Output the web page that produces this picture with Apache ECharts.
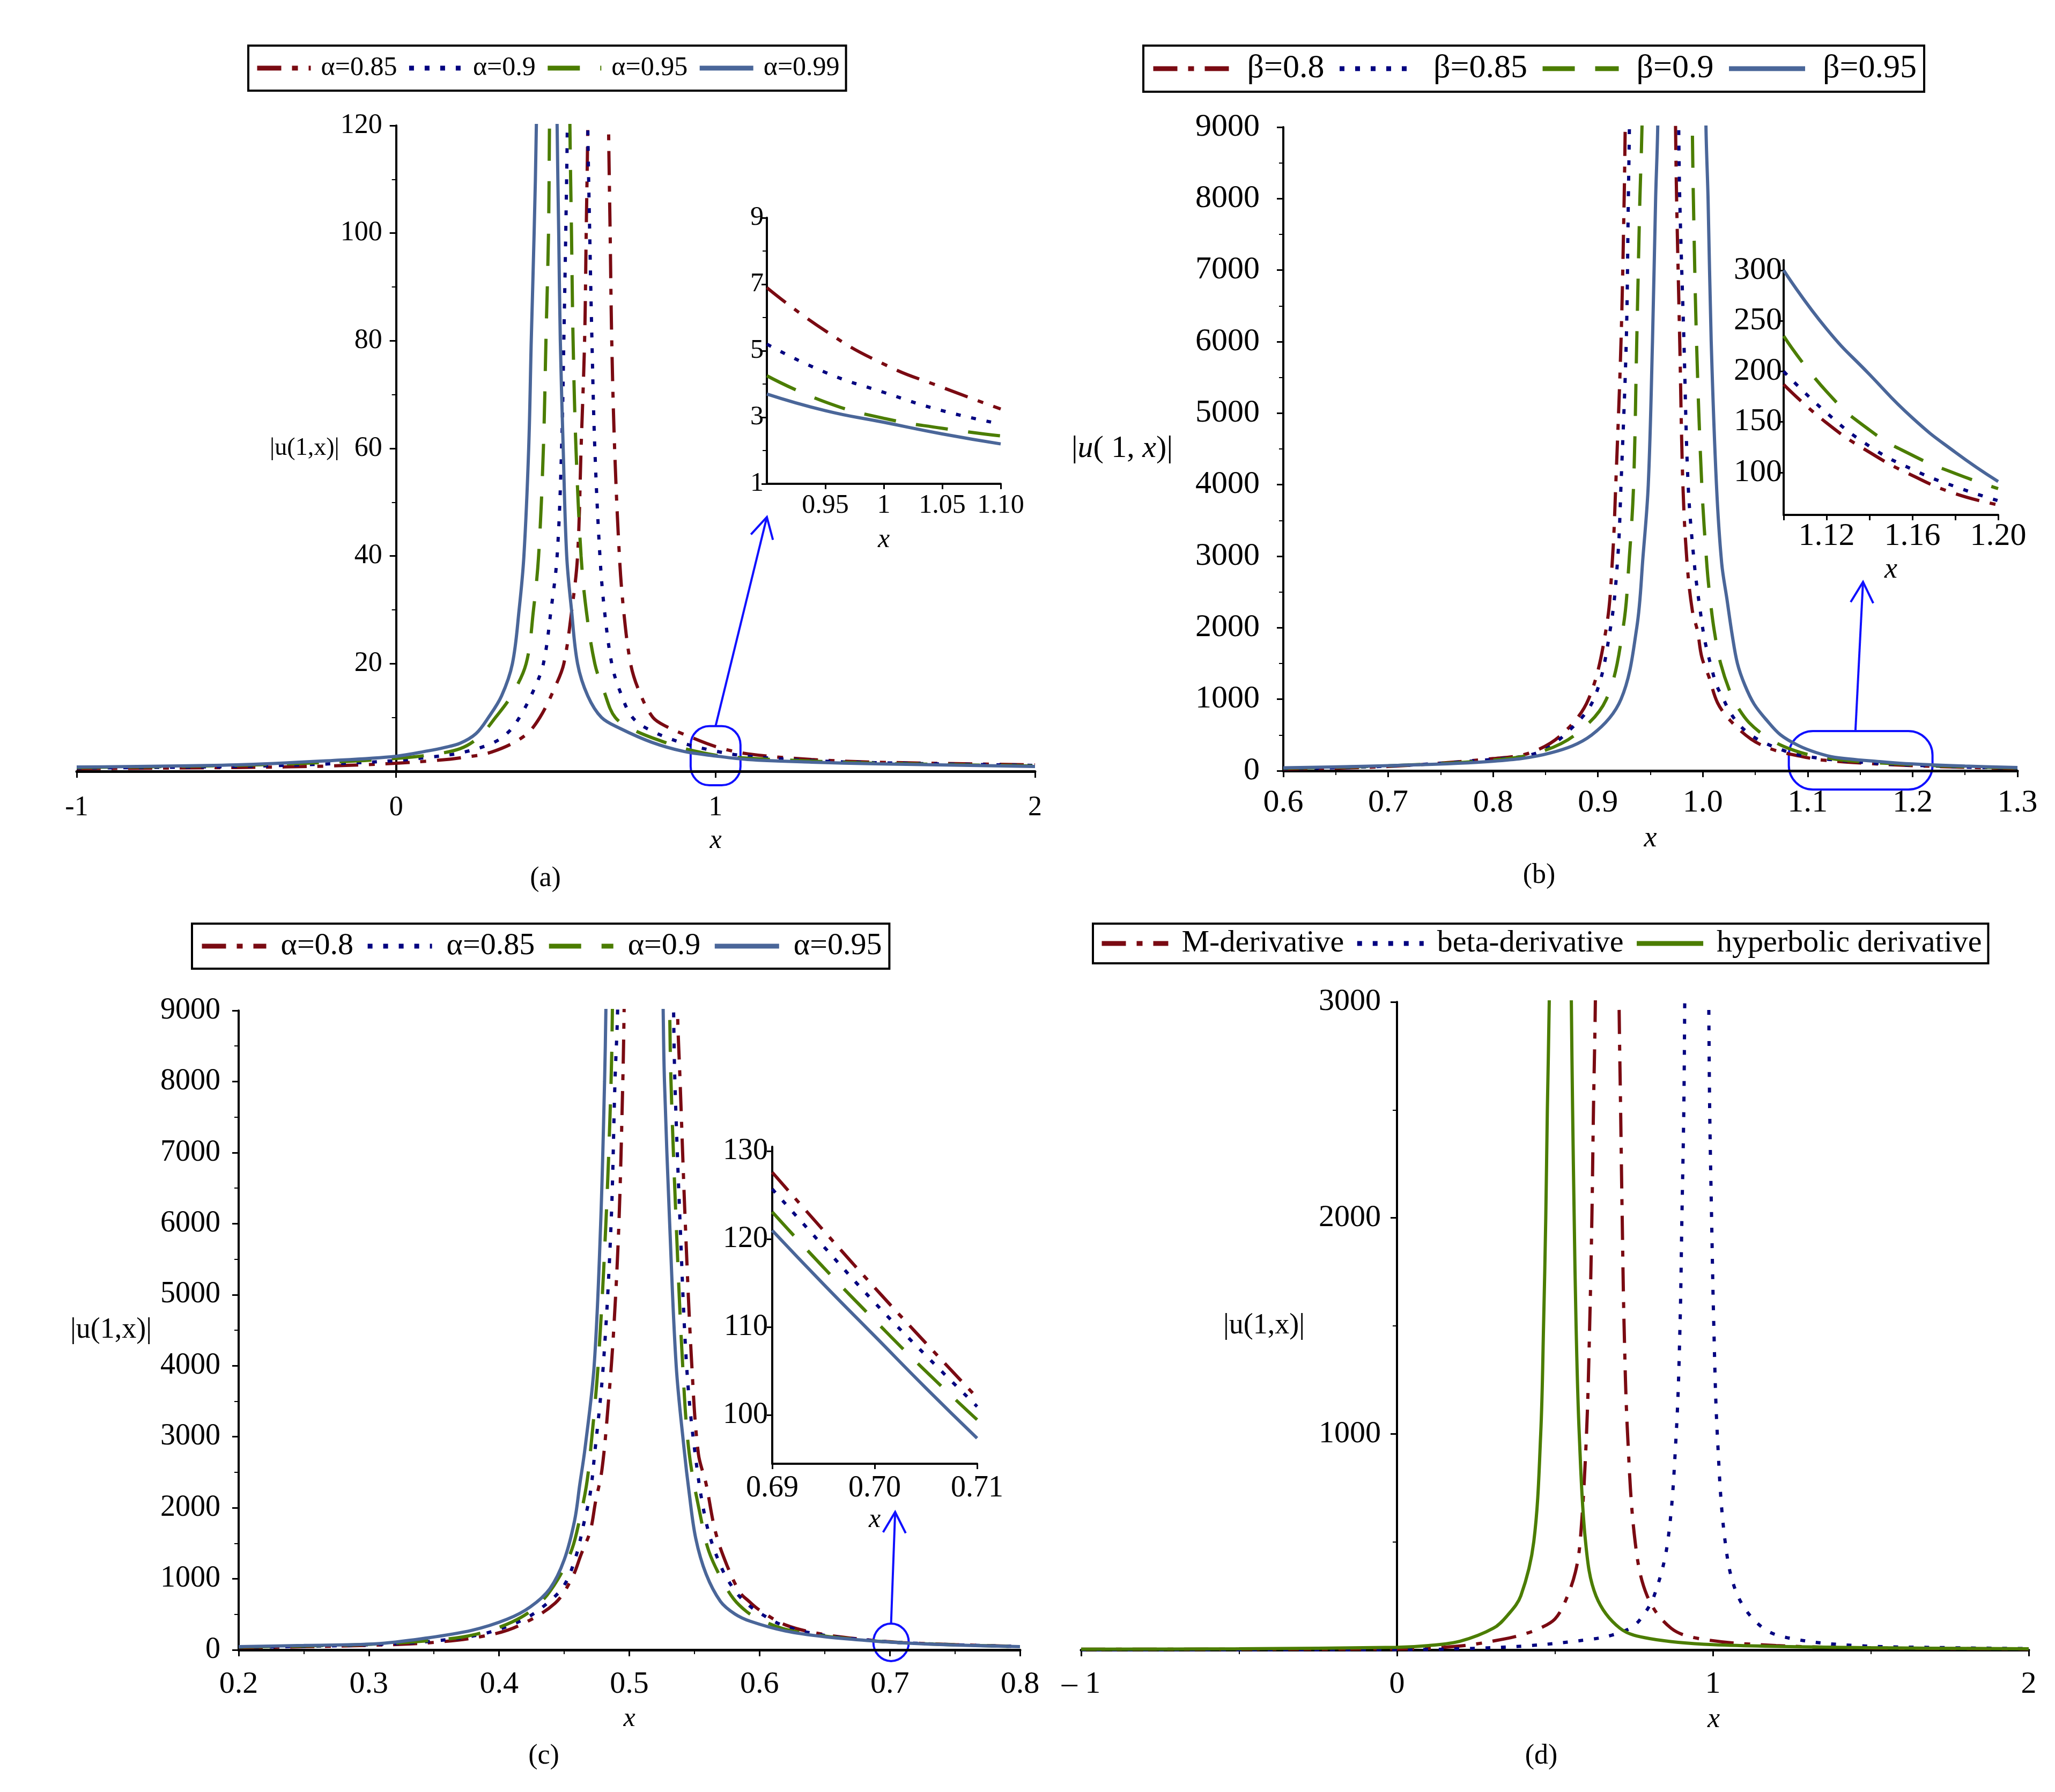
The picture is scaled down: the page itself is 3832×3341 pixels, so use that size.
<!DOCTYPE html>
<html>
<head>
<meta charset="utf-8">
<script src="https://cdn.jsdelivr.net/npm/echarts@6/dist/echarts.min.js"></script>
<style>
html, body { margin: 0; padding: 0; background: #fff; }
#container { width: 3832px; height: 3341px; }
</style>
</head>
<body>
<div id="container"></div>
<script>
// ---- data ----
// (a) |u(1,x)| for several alpha
const aNames = ['α=0.85', 'α=0.9', 'α=0.95', 'α=0.99'];
const aAlpha085 = [[-1,0.5],[-0.5,0.7],[-0.2,1.0],[0,1.5],[0.1,1.9],[0.2,2.5],[0.3,3.6],[0.4,6.5],[0.45,10],[0.5,16],[0.525,20],[0.55,30],[0.568,40],[0.579,60],[0.59,80],[0.595,100],[0.6,120],[0.604,150],[0.661,150],[0.665,120],[0.67,100],[0.675,80],[0.684,60],[0.699,40],[0.712,30],[0.734,20],[0.76,15],[0.804,10],[0.85,8.2],[0.9,6.9],[1.0,4.6],[1.1,3.25],[1.3,2.2],[1.5,1.7],[2,1.2]];
const aAlpha09 = [[-1,0.6],[-0.5,0.9],[-0.2,1.4],[0,2.0],[0.1,2.6],[0.2,3.4],[0.3,5.2],[0.35,7.2],[0.386,10],[0.43,15],[0.461,20],[0.485,30],[0.504,40],[0.518,60],[0.525,80],[0.531,100],[0.536,120],[0.54,150],[0.596,150],[0.6,120],[0.606,100],[0.613,80],[0.622,60],[0.638,40],[0.652,30],[0.675,20],[0.7,15],[0.74,10],[0.8,7.5],[0.9,5.2],[1.0,3.75],[1.1,2.8],[1.3,2.0],[1.5,1.6],[2,1.1]];
const aAlpha095 = [[-1,0.7],[-0.5,1.1],[-0.2,1.7],[0,2.4],[0.1,3.0],[0.2,4.2],[0.26,6.4],[0.311,10],[0.36,14],[0.407,20],[0.43,30],[0.446,40],[0.461,60],[0.469,80],[0.477,100],[0.48,120],[0.484,150],[0.54,150],[0.544,120],[0.549,100],[0.554,80],[0.563,60],[0.579,40],[0.595,30],[0.622,20],[0.65,15],[0.686,10],[0.75,7.5],[0.85,5.2],[0.9,4.25],[1.0,3.0],[1.1,2.45],[1.3,1.9],[1.5,1.5],[2,1.0]];
const aAlpha099 = [[-1,0.8],[-0.5,1.2],[-0.2,2.0],[0,2.8],[0.1,3.8],[0.15,4.4],[0.2,5.2],[0.25,7.0],[0.289,10],[0.33,14],[0.364,20],[0.385,30],[0.4,40],[0.415,60],[0.423,80],[0.432,100],[0.439,120],[0.443,150],[0.5,150],[0.504,120],[0.509,100],[0.514,80],[0.523,60],[0.534,40],[0.549,30],[0.568,20],[0.6,14],[0.643,10],[0.7,8],[0.8,5.4],[0.9,3.7],[1.0,2.85],[1.1,2.2],[1.3,1.7],[1.5,1.4],[2,0.9]];
// (a) zoomed window
const aZoomX = [0.9, 0.95, 1.0, 1.05, 1.1];
const aZoom085 = [6.9, 5.6, 4.6, 3.9, 3.25];
const aZoom09 = [5.2, 4.35, 3.75, 3.2, 2.8];
const aZoom095 = [4.25, 3.46, 2.97, 2.67, 2.44];
const aZoom099 = [3.7, 3.2, 2.85, 2.5, 2.2];

// (b) several beta
const bNames = ['β=0.8', 'β=0.85', 'β=0.9', 'β=0.95'];
const bBeta08 = [[0.6,25],[0.7,60],[0.8,170],[0.835,250],[0.865,500],[0.891,1000],[0.908,2000],[0.914,3000],[0.917,4000],[0.922,6000],[0.925,8000],[0.926,9000],[0.928,11000],[0.9725,11000],[0.974,9000],[0.975,8000],[0.978,6000],[0.981,4000],[0.985,2900],[0.99,2240],[0.995,1950],[0.999,1590],[1.006,1305],[1.014,952],[1.026,705],[1.046,443],[1.066,300],[1.093,203],[1.114,150],[1.16,100],[1.2,72],[1.25,48],[1.3,32]];
const bBeta085 = [[0.6,30],[0.7,65],[0.8,160],[0.842,250],[0.868,500],[0.896,1000],[0.912,2000],[0.919,3000],[0.922,4000],[0.927,6000],[0.929,8000],[0.93,9000],[0.9315,11000],[0.9755,11000],[0.977,9000],[0.978,8000],[0.982,6000],[0.986,4000],[0.992,2880],[0.9975,2240],[1.002,1815],[1.009,1400],[1.013,1200],[1.0195,1005],[1.026,818],[1.035,638],[1.047,488],[1.06,383],[1.074,300],[1.088,233],[1.105,188],[1.121,158],[1.16,110],[1.2,78],[1.25,52],[1.3,35]];
const bBeta09 = [[0.6,35],[0.7,70],[0.8,150],[0.842,250],[0.878,500],[0.908,1000],[0.924,2000],[0.93,3000],[0.934,4000],[0.937,6000],[0.94,8000],[0.942,9000],[0.9435,11000],[0.9885,11000],[0.99,9000],[0.991,8000],[0.994,6000],[0.999,4000],[1.004,2850],[1.007,2400],[1.011,1950],[1.017,1500],[1.027,1065],[1.035,850],[1.044,675],[1.057,510],[1.07,390],[1.085,295],[1.101,225],[1.125,165],[1.15,128],[1.2,85],[1.25,57],[1.3,40]];
const bBeta095 = [[0.6,42],[0.7,72],[0.8,133],[0.855,250],[0.894,500],[0.922,1000],[0.937,2000],[0.943,3000],[0.948,4000],[0.952,6000],[0.955,8000],[0.957,9000],[0.9585,11000],[1.0015,11000],[1.003,9000],[1.005,8000],[1.008,6000],[1.013,4000],[1.018,2900],[1.023,2400],[1.028,1900],[1.033,1500],[1.04,1200],[1.049,930],[1.061,705],[1.074,503],[1.091,353],[1.108,255],[1.126,188],[1.169,128],[1.2,95],[1.25,65],[1.3,45]];
const bZoomX = [1.1, 1.12, 1.14, 1.16, 1.18, 1.2];
const bZoom08 = [187, 149, 120, 97, 79, 68];
const bZoom085 = [200, 159, 126, 103, 86, 72];
const bZoom09 = [235, 180, 142, 117, 99, 84];
const bZoom095 = [300, 242, 197, 154, 120, 91];

// (c) several alpha
const cNames = ['α=0.8', 'α=0.85', 'α=0.9', 'α=0.95'];
const cAlpha08 = [[0.2,32],[0.25,45],[0.3,64],[0.35,105],[0.39,200],[0.415,340],[0.443,657],[0.456,1012],[0.463,1344],[0.47,1672],[0.474,2078],[0.479,2537],[0.484,3500],[0.488,4500],[0.492,6000],[0.495,8000],[0.496,9000],[0.4975,11000],[0.5355,11000],[0.537,9000],[0.539,8000],[0.543,6000],[0.548,4000],[0.553,2764],[0.559,2333],[0.566,1672],[0.575,1189],[0.585,808],[0.592,682],[0.6,560],[0.62,350],[0.65,215],[0.69,127.6],[0.7,114.5],[0.71,102],[0.75,74],[0.8,48]];
const cAlpha085 = [[0.2,36],[0.25,50],[0.3,72],[0.35,125],[0.388,226],[0.419,430],[0.437,657],[0.45,910],[0.459,1316],[0.465,1774],[0.47,2205],[0.473,2688],[0.48,4000],[0.486,6000],[0.489,8000],[0.491,9000],[0.4925,11000],[0.5325,11000],[0.534,9000],[0.535,8000],[0.539,6000],[0.544,4000],[0.55,2839],[0.559,1797],[0.57,1189],[0.581,834],[0.59,657],[0.6,520],[0.62,330],[0.65,205],[0.69,125.7],[0.7,112.8],[0.71,101],[0.75,72],[0.8,47]];
const cAlpha09 = [[0.2,40],[0.25,55],[0.3,78],[0.35,135],[0.38,210],[0.41,393],[0.43,634],[0.445,990],[0.456,1420],[0.462,1850],[0.467,2306],[0.47,2764],[0.476,4000],[0.482,6000],[0.486,8000],[0.487,9000],[0.4885,11000],[0.5295,11000],[0.531,9000],[0.532,8000],[0.536,6000],[0.541,4000],[0.546,2764],[0.555,1850],[0.561,1392],[0.571,990],[0.58,720],[0.59,540],[0.6,430],[0.62,290],[0.65,195],[0.69,123.1],[0.7,110.8],[0.71,99.5],[0.75,70],[0.8,46]];
const cAlpha095 = [[0.2,45],[0.25,62],[0.305,85],[0.342,161],[0.379,275],[0.406,430],[0.424,605],[0.439,861],[0.45,1268],[0.458,1823],[0.462,2333],[0.466,2839],[0.473,4000],[0.478,6000],[0.481,8000],[0.482,9000],[0.4835,11000],[0.5245,11000],[0.526,9000],[0.527,8000],[0.531,6000],[0.536,4000],[0.542,2839],[0.546,2205],[0.551,1570],[0.559,1065],[0.57,682],[0.581,506],[0.593,402],[0.62,265],[0.65,185],[0.69,121],[0.7,109],[0.71,97.4],[0.75,68],[0.8,45]];
const cZoomX = [0.69, 0.695, 0.7, 0.705, 0.71];
const cZoom08 = [127.6, 121, 114.5, 108.2, 102];
const cZoom085 = [125.7, 119.2, 112.8, 106.8, 101];
const cZoom09 = [123.1, 116.8, 110.8, 105, 99.5];
const cZoom095 = [121, 114.9, 109, 103.1, 97.4];

// (d) three derivatives
const dNames = ['M-derivative', 'beta-derivative', 'hyperbolic derivative'];
const dM = [[-1,3],[-0.5,3],[0,4],[0.2,18],[0.338,50],[0.4,72],[0.457,103],[0.5,143],[0.532,222],[0.565,361],[0.581,520],[0.6,1000],[0.61,1500],[0.617,2000],[0.622,2500],[0.628,3000],[0.631,3600],[0.7,3600],[0.703,3000],[0.708,2500],[0.713,2000],[0.719,1500],[0.73,1000],[0.754,500],[0.792,250],[0.868,100],[0.965,50],[1.2,20],[1.5,9],[2,4]];
const dBeta = [[-1,0.5],[0,1],[0.2,5],[0.424,20],[0.619,50],[0.68,68],[0.738,100],[0.771,143],[0.814,250],[0.857,500],[0.884,1000],[0.896,1500],[0.902,2000],[0.908,2500],[0.911,3000],[0.914,3600],[0.984,3600],[0.987,3000],[0.99,2500],[0.996,2000],[1.003,1500],[1.014,1000],[1.039,500],[1.079,250],[1.16,100],[1.258,50],[1.452,20],[1.75,10],[2,6]];
const dHyper = [[-1,3],[-0.5,5],[0,12],[0.1,20],[0.2,40],[0.305,100],[0.35,160],[0.392,250],[0.433,500],[0.455,1000],[0.464,1500],[0.471,2000],[0.476,2500],[0.482,3000],[0.485,3600],[0.549,3600],[0.552,3000],[0.556,2500],[0.561,2000],[0.567,1500],[0.577,1000],[0.597,500],[0.63,250],[0.706,100],[0.8,52],[1,24],[1.5,10],[2,5]];

// ---- styles ----
const FONT = 'Liberation Serif';
const RED = '#7a0a12', NAVY = '#000080', GREEN = '#4b7d00', STEEL = '#4a6699';
const DASHDOT = { color: RED, type: [45, 20, 11, 20] };
const DOTTED = { color: NAVY, type: [9, 20] };
const DASHED = { color: GREEN, type: [60, 38] };
const SOLID = { color: STEEL, type: 'solid' };
const SOLIDGREEN = { color: GREEN, type: 'solid' };

// grid boxes in pixels: [left, top, width, height]
const G = [
    [143, 234, 1787, 1204],   // (a)
    [1430, 406, 436, 496],    // (a) zoom
    [2393, 237, 1369, 1200],  // (b)
    [3326, 485, 400, 475],    // (b) zoom
    [445, 1884, 1457, 1192],  // (c)
    [1440, 2138, 382, 591],   // (c) zoom
    [2016, 1868, 1767, 1208]  // (d)
];

function zip(xs, ys) {
    return xs.map(function (x, i) { return [x, ys[i]]; });
}

// legend names carry a panel prefix so that equal labels in (a) and (c) stay apart
function curve(panel, name, data, axis, st, sm) {
    return {
        name: panel + '|' + name,
        type: 'line',
        xAxisIndex: axis,
        yAxisIndex: axis,
        data: data,
        symbol: 'none',
        smooth: sm,
        clip: true,
        silent: true,
        lineStyle: { color: st.color, width: 6, type: st.type, cap: 'butt' },
        itemStyle: { color: st.color },
        emphasis: { disabled: true }
    };
}

function stripPrefix(name) {
    return name.split('|')[1];
}

function plain(v) { return String(v); }

// pixel shift that puts a left y axis on x = 0
function zeroOffset(gi, min, max) {
    return -G[gi][2] * (0 - min) / (max - min);
}

function xAxisCfg(grid, min, max, interval, extra) {
    return Object.assign({
        gridIndex: grid, type: 'value', min: min, max: max, interval: interval,
        axisLine: { show: true, onZero: false, lineStyle: { color: '#000', width: 5 } },
        axisTick: { show: true, length: 12, lineStyle: { color: '#000', width: 3 } },
        splitLine: { show: false },
        axisLabel: { color: '#000', fontFamily: FONT, fontSize: 58, margin: 34, formatter: plain },
        name: 'x', nameLocation: 'middle', nameGap: 104, nameMoveOverlap: false,
        nameTextStyle: { color: '#000', fontFamily: FONT, fontStyle: 'italic', fontSize: 50 }
    }, extra || {});
}

function yAxisCfg(grid, min, max, interval, extra) {
    return Object.assign({
        gridIndex: grid, type: 'value', min: min, max: max, interval: interval,
        axisLine: { show: true, onZero: false, lineStyle: { color: '#000', width: 4 } },
        axisTick: { show: true, length: 12, lineStyle: { color: '#000', width: 3 } },
        minorTick: { show: true, splitNumber: 2, length: 8, lineStyle: { color: '#000', width: 2 } },
        splitLine: { show: false },
        minorSplitLine: { show: false },
        axisLabel: { color: '#000', fontFamily: FONT, fontSize: 58, margin: 34, formatter: plain },
        nameLocation: 'middle', nameRotate: 0, nameMoveOverlap: false,
        nameTextStyle: { color: '#000', fontFamily: FONT, fontSize: 54 }
    }, extra || {});
}

function legendCfg(panel, names, left, top, size, iconW, gap, textPad, pad) {
    return {
        data: names.map(function (n) { return panel + '|' + n; }),
        formatter: stripPrefix,
        left: left, top: top, orient: 'horizontal',
        padding: pad,
        itemGap: gap, itemWidth: iconW, itemHeight: 40,
        borderColor: '#000', borderWidth: 4,
        lineStyle: { width: 9 },
        itemStyle: { opacity: 0, borderWidth: 0 },
        textStyle: { color: '#000', fontFamily: FONT, fontSize: size, padding: [0, 0, 0, textPad] }
    };
}

var dom = document.getElementById('container');
var myChart = echarts.init(dom, null, { renderer: 'canvas' });

var option = {
    animation: false,
    backgroundColor: '#fff',
    textStyle: { fontFamily: FONT, color: '#000' },
    legend: [
        legendCfg('a', aNames, 463, 85, 50, 100, 18, 14, [17, 12, 17, 12]),
        legendCfg('b', bNames, 2132, 85, 62, 142, 24, 28, [12, 14, 12, 14]),
        legendCfg('c', cNames, 358, 1722, 58, 120, 22, 22, [13, 14, 13, 14]),
        legendCfg('d', dNames, 2038, 1722, 58, 124, 20, 20, [8, 12, 8, 12])
    ],
    grid: G.map(function (b) {
        return { left: b[0], top: b[1], width: b[2], height: b[3], outerBoundsMode: 'none' };
    }),
    xAxis: [
        xAxisCfg(0, -1, 2, 1, {
            axisLabel: { color: '#000', fontFamily: FONT, fontSize: 52, margin: 42, formatter: plain },
            nameGap: 105,
            nameTextStyle: { color: '#000', fontFamily: FONT, fontStyle: 'italic', fontSize: 50, padding: [0, 0, 0, 596] }
        }),
        xAxisCfg(1, 0.9, 1.1, null, {
            axisLine: { show: true, onZero: false, lineStyle: { color: '#000', width: 4 } },
            axisTick: { show: true, length: 10, customValues: [0.95, 1, 1.05, 1.1], lineStyle: { color: '#000', width: 3 } },
            axisLabel: {
                color: '#000', fontFamily: FONT, fontSize: 50, margin: 16,
                customValues: [0.95, 1, 1.05, 1.1],
                formatter: function (v) { return v === 1 ? '1' : v.toFixed(2); }
            },
            nameGap: 80
        }),
        xAxisCfg(2, 0.6, 1.3, 0.1, {
            minorTick: { show: true, splitNumber: 2, length: 8, lineStyle: { color: '#000', width: 2 } },
            axisLabel: { color: '#000', fontFamily: FONT, fontSize: 60, margin: 30, formatter: function (v) { return v.toFixed(1); } },
            nameGap: 100,
            nameTextStyle: { color: '#000', fontFamily: FONT, fontStyle: 'italic', fontSize: 54 }
        }),
        xAxisCfg(3, 1.1, 1.2, null, {
            axisLine: { show: true, onZero: false, lineStyle: { color: '#000', width: 4 } },
            axisTick: { show: true, length: 10, customValues: [1.1, 1.12, 1.14, 1.16, 1.18, 1.2], lineStyle: { color: '#000', width: 3 } },
            axisLabel: {
                color: '#000', fontFamily: FONT, fontSize: 60, margin: 10,
                customValues: [1.12, 1.16, 1.2],
                formatter: function (v) { return v.toFixed(2); }
            },
            nameGap: 76,
            nameTextStyle: { color: '#000', fontFamily: FONT, fontStyle: 'italic', fontSize: 54 }
        }),
        xAxisCfg(4, 0.2, 0.8, 0.1, {
            minorTick: { show: true, splitNumber: 2, length: 8, lineStyle: { color: '#000', width: 2 } },
            axisLabel: { color: '#000', fontFamily: FONT, fontSize: 58, margin: 36, formatter: function (v) { return v.toFixed(1); } }
        }),
        xAxisCfg(5, 0.69, 0.71, null, {
            axisLine: { show: true, onZero: false, lineStyle: { color: '#000', width: 4 } },
            axisTick: { show: true, length: 10, customValues: [0.69, 0.7, 0.71], lineStyle: { color: '#000', width: 3 } },
            axisLabel: {
                color: '#000', fontFamily: FONT, fontSize: 56, margin: 18,
                customValues: [0.69, 0.7, 0.71],
                formatter: function (v) { return v.toFixed(2); }
            },
            nameGap: 80
        }),
        xAxisCfg(6, -1, 2, 1, {
            minorTick: { show: true, splitNumber: 2, length: 8, lineStyle: { color: '#000', width: 2 } },
            axisLabel: {
                color: '#000', fontFamily: FONT, fontSize: 58, margin: 36,
                formatter: function (v) { return v < 0 ? '\u2013 ' + Math.abs(v) : String(v); }
            },
            nameTextStyle: { color: '#000', fontFamily: FONT, fontStyle: 'italic', fontSize: 52, padding: [0, 0, 0, 592] }
        })
    ],
    yAxis: [
        yAxisCfg(0, 0, 120, 20, {
            offset: zeroOffset(0, -1, 2),
            axisLabel: { color: '#000', fontFamily: FONT, fontSize: 52, margin: 26, showMinLabel: false, formatter: plain },
            name: '|u(1,x)|', nameGap: 106,
            nameTextStyle: { color: '#000', fontFamily: FONT, fontSize: 46 }
        }),
        yAxisCfg(1, 1, 9, 2, {
            axisTick: { show: true, length: 10, lineStyle: { color: '#000', width: 3 } },
            axisLabel: { color: '#000', fontFamily: FONT, fontSize: 50, margin: 6, formatter: plain }
        }),
        yAxisCfg(2, 0, 9000, 1000, {
            axisLabel: { color: '#000', fontFamily: FONT, fontSize: 60, margin: 44, formatter: plain },
            name: '|{i|u}( 1, {i|x})|', nameGap: 206,
            nameTextStyle: {
                color: '#000', fontFamily: FONT, fontSize: 58,
                rich: { i: { fontFamily: FONT, fontStyle: 'italic', fontSize: 58, color: '#000' } }
            }
        }),
        yAxisCfg(3, 58, 310, null, {
            axisTick: { show: true, length: 10, customValues: [100, 150, 200, 250, 300], lineStyle: { color: '#000', width: 3 } },
            minorTick: { show: false },
            axisLabel: { color: '#000', fontFamily: FONT, fontSize: 60, margin: 3, customValues: [100, 150, 200, 250, 300], formatter: plain }
        }),
        yAxisCfg(4, 0, 9000, 1000, {
            axisLabel: { color: '#000', fontFamily: FONT, fontSize: 56, margin: 34, formatter: plain },
            name: '|u(1,x)|', nameGap: 162
        }),
        yAxisCfg(5, 94.5, 130.5, null, {
            axisTick: { show: true, length: 10, customValues: [100, 110, 120, 130], lineStyle: { color: '#000', width: 3 } },
            minorTick: { show: false },
            axisLabel: { color: '#000', fontFamily: FONT, fontSize: 56, margin: 8, customValues: [100, 110, 120, 130], formatter: plain }
        }),
        yAxisCfg(6, 0, 3000, 1000, {
            offset: zeroOffset(6, -1, 2),
            axisLabel: { color: '#000', fontFamily: FONT, fontSize: 58, margin: 30, showMinLabel: false, formatter: plain },
            name: '|u(1,x)|', nameGap: 172
        })
    ],
    series: [
        curve('a', aNames[0], aAlpha085, 0, DASHDOT, 0.35),
        curve('a', aNames[1], aAlpha09, 0, DOTTED, 0.35),
        curve('a', aNames[2], aAlpha095, 0, DASHED, 0.35),
        curve('a', aNames[3], aAlpha099, 0, SOLID, 0.35),
        curve('a', aNames[0], zip(aZoomX, aZoom085), 1, DASHDOT, 0.5),
        curve('a', aNames[1], zip(aZoomX, aZoom09), 1, DOTTED, 0.5),
        curve('a', aNames[2], zip(aZoomX, aZoom095), 1, DASHED, 0.5),
        curve('a', aNames[3], zip(aZoomX, aZoom099), 1, SOLID, 0.5),

        curve('b', bNames[0], bBeta08, 2, DASHDOT, 0.35),
        curve('b', bNames[1], bBeta085, 2, DOTTED, 0.35),
        curve('b', bNames[2], bBeta09, 2, DASHED, 0.35),
        curve('b', bNames[3], bBeta095, 2, SOLID, 0.35),
        curve('b', bNames[0], zip(bZoomX, bZoom08), 3, DASHDOT, 0.5),
        curve('b', bNames[1], zip(bZoomX, bZoom085), 3, DOTTED, 0.5),
        curve('b', bNames[2], zip(bZoomX, bZoom09), 3, DASHED, 0.5),
        curve('b', bNames[3], zip(bZoomX, bZoom095), 3, SOLID, 0.5),

        curve('c', cNames[0], cAlpha08, 4, DASHDOT, 0.35),
        curve('c', cNames[1], cAlpha085, 4, DOTTED, 0.35),
        curve('c', cNames[2], cAlpha09, 4, DASHED, 0.35),
        curve('c', cNames[3], cAlpha095, 4, SOLID, 0.35),
        curve('c', cNames[0], zip(cZoomX, cZoom08), 5, DASHDOT, 0.5),
        curve('c', cNames[1], zip(cZoomX, cZoom085), 5, DOTTED, 0.5),
        curve('c', cNames[2], zip(cZoomX, cZoom09), 5, DASHED, 0.5),
        curve('c', cNames[3], zip(cZoomX, cZoom095), 5, SOLID, 0.5),

        curve('d', dNames[0], dM, 6, DASHDOT, 0.35),
        curve('d', dNames[1], dBeta, 6, DOTTED, 0.35),
        curve('d', dNames[2], dHyper, 6, SOLIDGREEN, 0.35)
    ]
};

myChart.setOption(option);

// ---- blue zoom markers, arrows and panel captions ----
function px(grid, pt) {
    return myChart.convertToPixel({ gridIndex: grid }, pt);
}

function arrow(from, to) {
    var ang = Math.atan2(to[1] - from[1], to[0] - from[0]);
    var len = 44, spread = 0.5;
    var l = [to[0] - len * Math.cos(ang - spread), to[1] - len * Math.sin(ang - spread)];
    var r = [to[0] - len * Math.cos(ang + spread), to[1] - len * Math.sin(ang + spread)];
    var st = { stroke: '#1010ff', lineWidth: 4, fill: null };
    return [
        { type: 'polyline', silent: true, shape: { points: [from, to] }, style: st },
        { type: 'polyline', silent: true, shape: { points: [l, to, r] }, style: st }
    ];
}

function box(grid, p, q, radius) {
    var a = px(grid, p), b = px(grid, q);
    return {
        type: 'rect', silent: true,
        shape: { x: a[0], y: a[1], width: b[0] - a[0], height: b[1] - a[1], r: radius },
        style: { stroke: '#1010ff', lineWidth: 4, fill: null }
    };
}

function caption(text, x, y) {
    return {
        type: 'text', silent: true, x: x, y: y,
        style: { text: text, fontFamily: FONT, fontSize: 52, fill: '#000', align: 'center', verticalAlign: 'middle' }
    };
}

var g = [];
// (a)
g.push(box(0, [0.922, 8.4], [1.078, -2.6], 35));
var aTip = px(1, [0.9, 1]);
g = g.concat(arrow(px(0, [1.0, 8.4]), [aTip[0], aTip[1] + 62]));
// (b)
g.push(box(2, [1.082, 555], [1.219, -263], 45));
var bTip = px(3, [1.137, 58]);
g = g.concat(arrow(px(2, [1.1455, 555]), [bTip[0], bTip[1] + 125]));
// (c)
var cC = px(4, [0.701, 106]);
g.push({
    type: 'ellipse', silent: true,
    shape: { cx: cC[0], cy: cC[1], rx: 33, ry: 35 },
    style: { stroke: '#1010ff', lineWidth: 4, fill: null }
});
var cTip = px(5, [0.702, 94.5]);
g = g.concat(arrow([cC[0], cC[1] - 35], [cTip[0], cTip[1] + 90]));
// captions
g.push(caption('(a)', 1017, 1638));
g.push(caption('(b)', 2870, 1632));
g.push(caption('(c)', 1014, 3274));
g.push(caption('(d)', 2874, 3274));

myChart.setOption({ graphic: g });

window.addEventListener('resize', myChart.resize);
</script>
</body>
</html>
